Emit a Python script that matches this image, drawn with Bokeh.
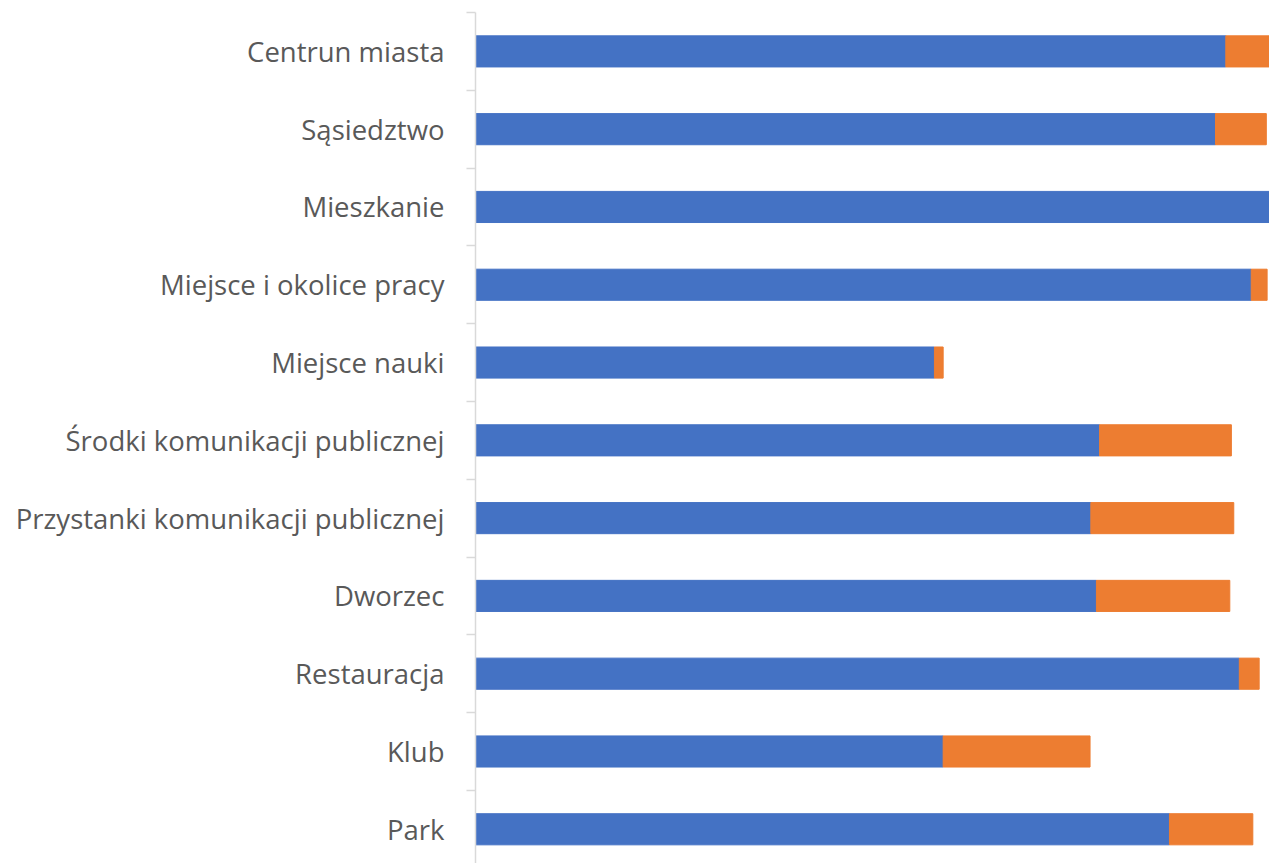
from bokeh.plotting import figure
from bokeh.models import Range1d, FixedTicker, ColumnDataSource
from bokeh.embed import file_html
from bokeh.resources import INLINE

categories = ["Centrun miasta", "Sąsiedztwo", "Mieszkanie", "Miejsce i okolice pracy",
              "Miejsce nauki", "Środki komunikacji publicznej",
              "Przystanki komunikacji publicznej", "Dworzec", "Restauracja", "Klub", "Park"]
series_a = [94.5, 93.2, 100.0, 97.7, 57.8, 78.6, 77.5, 78.2, 96.2, 58.9, 87.4]
series_b = [6.0, 6.4, 0.0, 2.0, 1.1, 16.6, 18.0, 16.8, 2.5, 18.5, 10.5]

centers = [i + 0.5 for i in range(len(categories))]
src = ColumnDataSource(dict(
    y=centers,
    a=series_a,
    b_left=series_a,
    b_right=[a + b for a, b in zip(series_a, series_b)],
    zero=[0] * len(categories),
))

p = figure(width=1269, height=863, output_backend="svg", toolbar_location=None,
           x_range=Range1d(0, 100), y_range=Range1d(10.94, 0),
           min_border_left=475, min_border_right=0, min_border_top=12, min_border_bottom=0)

p.hbar(y="y", left="zero", right="a", height=0.4, color="#4472C4", source=src)
p.hbar(y="y", left="b_left", right="b_right", height=0.4, color="#ED7D31", source=src)

p.xaxis.visible = False
p.xgrid.visible = False
p.ygrid.visible = False
p.outline_line_color = None

ax = p.yaxis[0]
ax.ticker = FixedTicker(ticks=centers, minor_ticks=list(range(len(categories) + 1)))
ax.major_label_overrides = {c: lab for c, lab in zip(centers, categories)}
ax.major_tick_line_color = None
ax.major_tick_out = 0
ax.major_tick_in = 0
ax.minor_tick_line_color = "#D9D9D9"
ax.minor_tick_out = 9
ax.minor_tick_in = 0
ax.minor_tick_line_width = 1.5
ax.axis_line_color = "#D9D9D9"
ax.axis_line_width = 1.5
ax.major_label_text_font = "Open Sans"
ax.major_label_text_font_size = "27.5px"
ax.major_label_text_color = "#595959"
ax.major_label_standoff = 22

open("out.html", "w").write(file_html(p, INLINE))
